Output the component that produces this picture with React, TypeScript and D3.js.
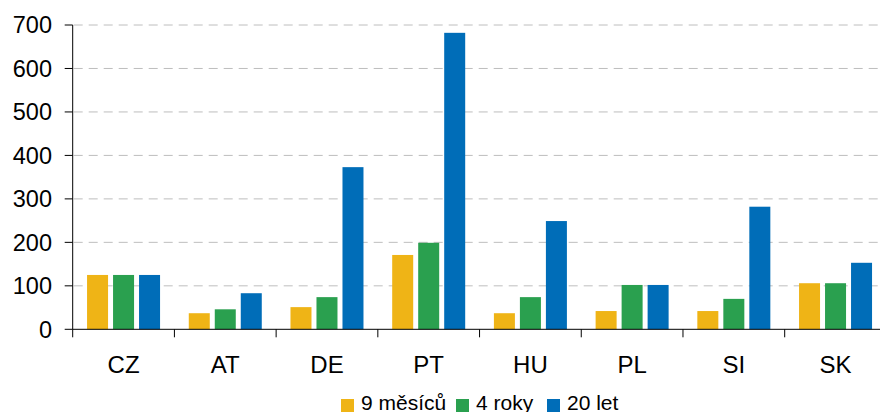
import React from "react";
import * as d3 from "d3";

const categories = ["CZ", "AT", "DE", "PT", "HU", "PL", "SI", "SK"];
const seriesNames = ["9 měsíců", "4 roky", "20 let"];
const months9 = [125, 37, 51, 171, 37, 42, 42, 106];
const years4 = [125, 46, 74, 199, 74, 102, 70, 106];
const years20 = [125, 83, 373, 682, 249, 102, 282, 153];
const yTicks = [0, 100, 200, 300, 400, 500, 600, 700];
const colors = ["#EFB416", "#2AA04F", "#006DB8"];

export default function App() {
  const W = 880, H = 412;
  const x0 = 72.7, x1 = 886.4;
  const yTop = 25, yBot = 329.3;
  const x = d3.scaleBand<string>().domain(categories).range([x0, x1]);
  const y = d3.scaleLinear().domain([0, 700]).range([yBot, yTop]);
  const series = [months9, years4, years20];
  const barW = 21, step = 26;
  const groupW = step * 2 + barW;
  const font = "'Liberation Sans', Arial, sans-serif";
  const legendX = [341, 456, 547];
  return (
    <svg width={W} height={H} style={{ position: "absolute", left: 0, top: 0, background: "#fff" }}>
      {yTicks.filter(t => t > 0).map(t => (
        <line key={"g" + t} x1={x0 + 1} x2={W} y1={y(t)} y2={y(t)} stroke="#BEBEBE" strokeWidth={1} strokeDasharray="9,6" />
      ))}
      {series.map((vals, si) =>
        categories.map((c, ci) => {
          const bx = (x(c) as number) + (x.bandwidth() - groupW) / 2 + si * step;
          return <rect key={si + "-" + ci} x={bx} y={y(vals[ci])} width={barW} height={yBot - y(vals[ci])} fill={colors[si]} />;
        })
      )}
      <line x1={x0} x2={x0} y1={yTop} y2={yBot} stroke="#000" strokeWidth={1} />
      <line x1={x0} x2={W} y1={yBot} y2={yBot} stroke="#000" strokeWidth={1} />
      {yTicks.map(t => (
        <g key={"t" + t}>
          <line x1={x0 - 8} x2={x0} y1={y(t)} y2={y(t)} stroke="#000" strokeWidth={1} />
          <text x={52} y={y(t)} dy="0.36em" textAnchor="end" fontFamily={font} fontSize={23.5} fill="#000">{t}</text>
        </g>
      ))}
      {categories.map((c, i) => (
        <g key={"c" + c}>
          <line x1={(x(c) as number)} x2={(x(c) as number)} y1={yBot} y2={yBot + 8} stroke="#000" strokeWidth={1} />
          <text x={(x(c) as number) + x.bandwidth() / 2} y={372.5} textAnchor="middle" fontFamily={font} fontSize={24} fill="#000">{c}</text>
        </g>
      ))}
      {seriesNames.map((n, i) => (
        <g key={"l" + i}>
          <rect x={legendX[i]} y={399} width={13} height={13} fill={colors[i]} />
          <text x={legendX[i] + 20} y={410} fontFamily={font} fontSize={21} fill="#000">{n}</text>
        </g>
      ))}
    </svg>
  );
}
